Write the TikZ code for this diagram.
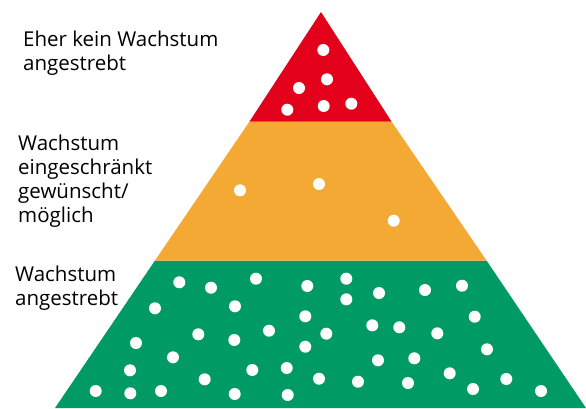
\documentclass[tikz,border=0pt]{standalone}
\usepackage{fontspec}
\setmainfont{Open Sans}
\definecolor{bandred}{RGB}{227,0,27}
\definecolor{bandorange}{RGB}{245,169,53}
\definecolor{bandgreen}{RGB}{0,155,100}
\begin{document}
\begin{tikzpicture}[x=1pt,y=-1pt,
  label/.style={anchor=base west,inner sep=0pt,align=left,
    font=\fontsize{20.5}{24}\selectfont,text=black},
  dot/.style={fill=white}]
\useasboundingbox (0,0) rectangle (586,408);
% band corners
\coordinate (apex) at (321,12);
\coordinate (rl) at (249.5,121.5);
\coordinate (rr) at (391.5,121.5);
\coordinate (ol) at (155,260.5);
\coordinate (or) at (486.5,260.5);
\coordinate (gl) at (55,408);
\coordinate (gr) at (586,408);
% bands
\fill[bandgreen] (ol) -- (or) -- (gr) -- (gl) -- cycle;
\fill[bandorange] (rl) -- (rr) -- (or) -- (ol) -- cycle;
\fill[bandred] (apex) -- (rr) -- (rl) -- cycle;
% dots in the top band
\foreach \p in {(323.3,50),(327,79.3),(299,88),(287.3,109.7),(323.7,106),(351.3,103.7)}
  \fill[dot] \p circle (6);
% dots in the middle band
\foreach \p in {(240,190.3),(319,184),(393.7,220.7)}
  \fill[dot] \p circle (6);
% dots in the bottom band
\foreach \p in {(179.3,282.3),(211,287.7),(256,278.7),(307.3,286),(155,308.3),
  (235,306.3),(305.3,316.3),(198.3,334.3),(234.3,340),(269,330.7),(136,343),
  (305.3,346.7),(173,357.3),(130,370.3),(252.3,370),(286.7,368),(204.7,379.3),
  (319,378.7),(95.7,391),(130.3,393.3),(161,391),(234.7,394),(287.7,395),
  (346.3,278.7),(346.3,299.3),(379,293),(425,290),(462,285.7),(326.3,333.7),
  (372.3,325.3),(399.3,327.3),(437.3,333.3),(474.7,316.7),(378,360.3),
  (414.3,358.3),(487,349.3),(358,381.7),(408,383),(449.7,373.3),(473,389),
  (506.3,379),(541,391)}
  \fill[dot] \p circle (6);
% labels (anchored at the baseline of their last line)
\node[label] (top) at (23,70) {Eher kein Wachstum\\angestrebt};
\node[label] (mid) at (18,222) {Wachstum\\eingeschränkt\\gewünscht/\\möglich};
\node[label] (low) at (15,305) {Wachstum\\angestrebt};
\end{tikzpicture}
\end{document}
